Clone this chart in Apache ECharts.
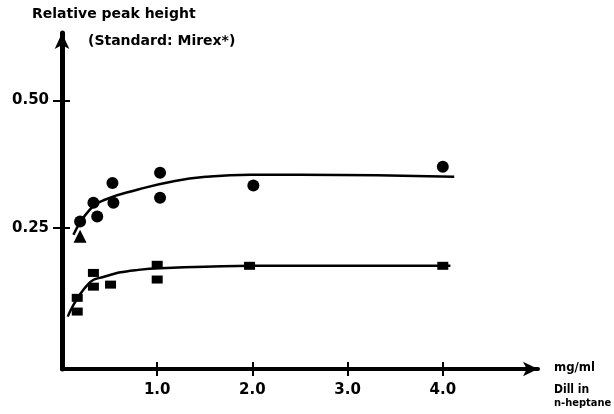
<!DOCTYPE html>
<html>
<head>
<meta charset="utf-8">
<script src="https://cdn.jsdelivr.net/npm/echarts@6/dist/echarts.min.js"></script>
<style>
html,body{margin:0;padding:0;background:#fff;}
#chart{width:614px;height:414px;}
</style>
</head>
<body>
<div id="chart"></div>
<script>
// ---- data ----
const xTicks = [1, 2, 3, 4];
const xTickLabels = ['1.0', '2.0', '3.0', '4.0'];
const yTicks = [0.25, 0.50];
const yTickLabels = ['0.25', '0.50'];

// upper series (circles)
const upperX = [0.19, 0.19, 0.33, 0.37, 0.53, 0.54, 1.03, 1.03, 2.01, 4.0];
const upperY = [0.262, 0.233, 0.299, 0.272, 0.338, 0.299, 0.358, 0.309, 0.333, 0.370];
const upperShape = ['circle', 'triangle', 'circle', 'circle', 'circle', 'circle', 'circle', 'circle', 'circle', 'circle'];
// upper fitted curve
const upperFitX = [0.12, 0.29, 0.45, 0.8, 1.16, 1.51, 1.98, 2.5, 4.12];
const upperFitY = [0.236, 0.285, 0.305, 0.325, 0.341, 0.350, 0.354, 0.354, 0.350];

// lower series (squares)
const lowerX = [0.16, 0.16, 0.33, 0.33, 0.51, 1.0, 1.0, 1.97, 4.0];
const lowerY = [0.112, 0.085, 0.161, 0.134, 0.138, 0.177, 0.148, 0.175, 0.175];
// lower fitted curve
const lowerFitX = [0.06, 0.27, 0.45, 0.8, 1.16, 1.5, 2.0, 4.08];
const lowerFitY = [0.075, 0.138, 0.154, 0.167, 0.171, 0.173, 0.175, 0.175];

const titleText = 'Relative peak height';
const subtitleText = '(Standard: Mirex*)';
const xUnit = 'mg/ml';
const xName1 = 'Dill in';
const xName2 = 'n-heptane';

// ---- chart ----
const FONT = 'DejaVu Sans';
const zip = (xs, ys) => xs.map((x, i) => [x, ys[i]]);

const chart = echarts.init(document.getElementById('chart'), null, {renderer: 'canvas'});

const xBase = {
  type: 'value', min: 0, max: 5, gridIndex: 0, position: 'bottom',
  splitLine: {show: false}
};
const yBase = {
  type: 'value', min: -0.028, max: 0.633, gridIndex: 0, position: 'left',
  splitLine: {show: false}
};

chart.setOption({
  animation: false,
  backgroundColor: '#fff',
  grid: {left: 62, right: 76, top: 33, bottom: 45, containLabel: false},
  xAxis: [
    Object.assign({}, xBase, {
      axisLine: {show: true, onZero: false, symbol: ['none', 'arrow'], symbolSize: [11, 15],
        lineStyle: {color: '#000', width: 4}},
      axisTick: {show: true, customValues: xTicks, length: 7, lineStyle: {color: '#000', width: 2}},
      axisLabel: {show: true, customValues: xTicks, margin: 14,
        formatter: v => xTickLabels[xTicks.indexOf(v)] ?? '',
        color: '#000', fontFamily: FONT, fontWeight: 'bold', fontSize: 15}
    }),
    Object.assign({}, xBase, {
      axisLine: {show: false, onZero: false},
      axisTick: {show: true, inside: true, customValues: xTicks, length: 7, lineStyle: {color: '#000', width: 2}},
      axisLabel: {show: false}
    })
  ],
  yAxis: [
    Object.assign({}, yBase, {
      axisLine: {show: true, onZero: false, symbol: ['none', 'arrow'], symbolSize: [11, 16],
        lineStyle: {color: '#000', width: 5}},
      axisTick: {show: true, customValues: yTicks, length: 9, lineStyle: {color: '#000', width: 2}},
      axisLabel: {show: true, customValues: yTicks, margin: 13,
        formatter: v => yTickLabels[yTicks.indexOf(v)] ?? '',
        color: '#000', fontFamily: FONT, fontWeight: 'bold', fontSize: 15}
    }),
    Object.assign({}, yBase, {
      axisLine: {show: false, onZero: false},
      axisTick: {show: true, inside: true, customValues: yTicks, length: 8, lineStyle: {color: '#000', width: 2}},
      axisLabel: {show: false}
    })
  ],
  series: [
    {
      type: 'line', xAxisIndex: 0, yAxisIndex: 0, data: zip(upperFitX, upperFitY),
      smooth: 0.5, showSymbol: false, lineStyle: {color: '#000', width: 2.5}, z: 2
    },
    {
      type: 'line', xAxisIndex: 0, yAxisIndex: 0, data: zip(lowerFitX, lowerFitY),
      smooth: 0.5, showSymbol: false, lineStyle: {color: '#000', width: 2.5}, z: 2
    },
    {
      type: 'scatter', xAxisIndex: 0, yAxisIndex: 0,
      data: upperX.map((x, i) => ({value: [x, upperY[i]], symbol: upperShape[i],
        symbolSize: upperShape[i] === 'triangle' ? 13 : 12})),
      itemStyle: {color: '#000', opacity: 1}, z: 3
    },
    {
      type: 'scatter', xAxisIndex: 0, yAxisIndex: 0,
      data: zip(lowerX, lowerY), symbol: 'rect', symbolSize: [11, 8],
      itemStyle: {color: '#000', opacity: 1}, z: 3
    }
  ],
  graphic: [
    {type: 'text', left: 32, top: 7, style: {text: titleText, fill: '#000',
      font: 'bold 14px "DejaVu Sans"'}},
    {type: 'text', left: 88, top: 34, style: {text: subtitleText, fill: '#000',
      font: 'bold 14px "DejaVu Sans"'}},
    {type: 'text', left: 554, top: 361, style: {text: xUnit, fill: '#000',
      font: 'bold 13px "DejaVu Sans Condensed"'}},
    {type: 'text', left: 554, top: 384, style: {text: xName1, fill: '#000',
      font: 'bold 12px "DejaVu Sans Condensed"'}},
    {type: 'text', left: 554, top: 398, style: {text: xName2, fill: '#000',
      font: 'bold 11px "DejaVu Sans Condensed"'}}
  ]
});
</script>
</body>
</html>
